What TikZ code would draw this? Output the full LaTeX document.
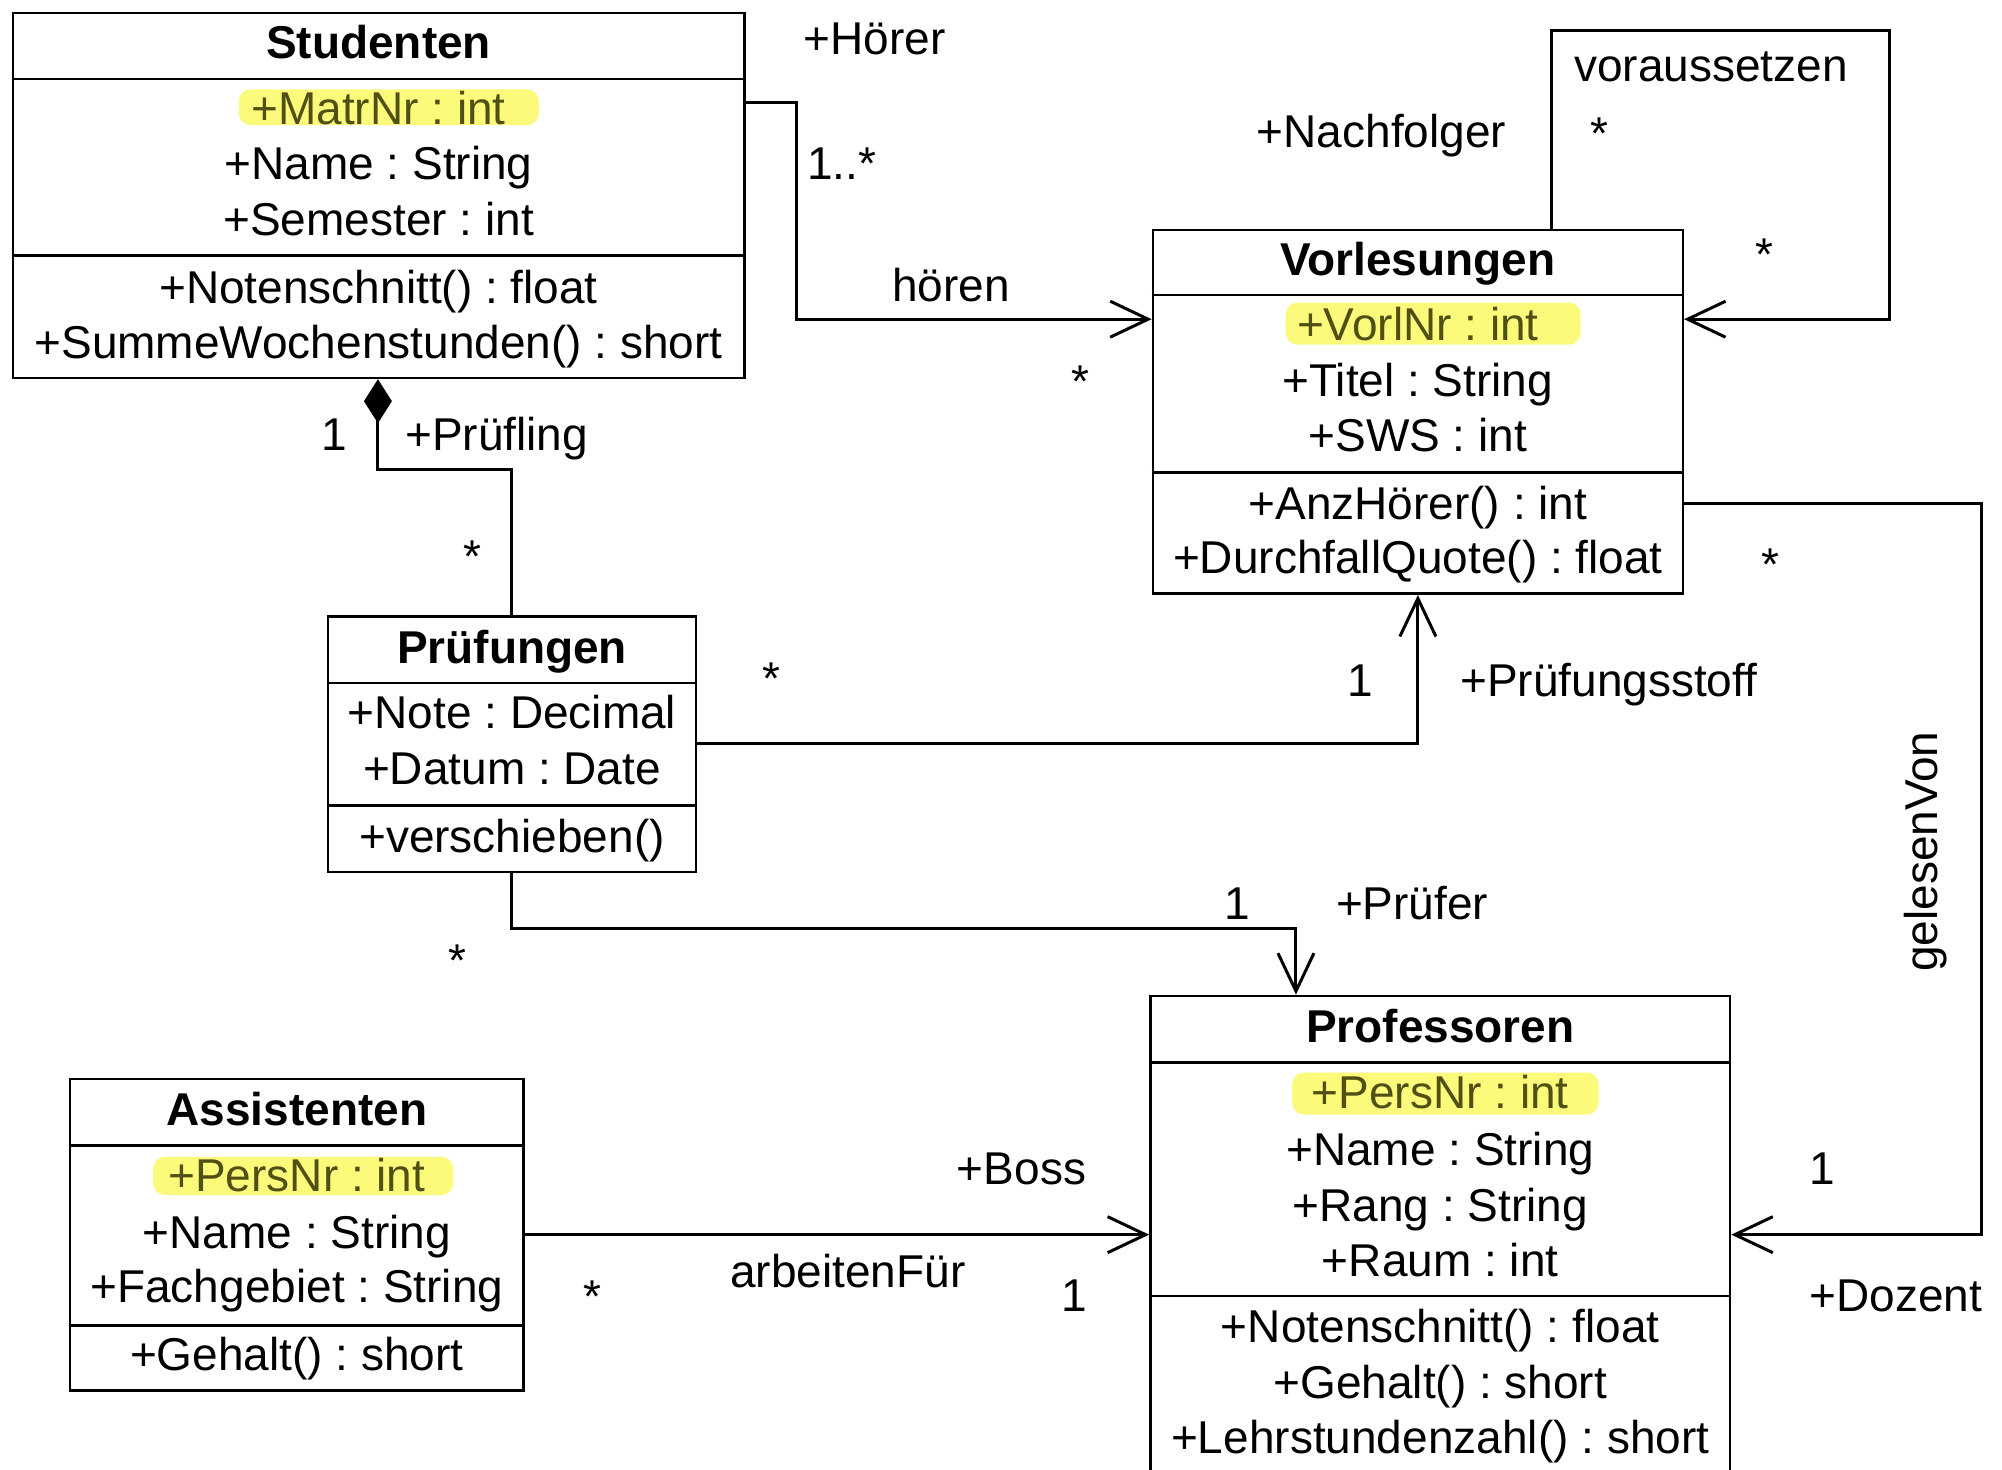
\documentclass[tikz,border=0pt]{standalone}
\usepackage{fontspec}
\setmainfont{Liberation Sans}
\usetikzlibrary{arrows.meta,fit}
\frenchspacing

\definecolor{hl}{RGB}{252,250,122}
\definecolor{hltext}{RGB}{80,80,20}

\begin{document}
\begin{tikzpicture}[x=1.2768pt,y=-1.2768pt,
  every node/.style={font=\fontsize{46}{55}\selectfont, inner sep=0pt},
  cls/.style={draw, line width=2.5pt, inner sep=0pt},
  sepline/.style={line width=2.5pt},
  ttl/.style={anchor=base, font=\fontsize{46}{55}\selectfont\bfseries},
  row/.style={anchor=base},
  keyrow/.style={anchor=base, text=hltext},
  lbl/.style={anchor=base},
  marker/.style={fill=hl, rounded corners=12pt},
  link/.style={line width=3pt},
  openhead/.style={-{Straight Barb[length=38pt,width=36pt]}},
  comphead/.style={{Diamond[length=44pt,width=28pt]}-}
]
\useasboundingbox (0,0) rectangle (1568,1151);
\clip (0,0) rectangle (1568,1151);

% key highlights
\fill[marker] (187,70) rectangle (422,98);
\fill[marker] (1007,237) rectangle (1238,270);
\fill[marker] (1012,840) rectangle (1252,873);
\fill[marker] (120,906) rectangle (355,936);

% ---------- Studenten ----------
\node[cls, fit={(10,10) (583,296)}] (stud) {};
\draw[sepline] (stud.west |- 0,62) -- (stud.east |- 0,62);
\draw[sepline] (stud.west |- 0,200) -- (stud.east |- 0,200);
\node[ttl] (stud-t) at (296.5,45.5) {Studenten};
\node[keyrow] (stud-a1) at (296.5,97.5) {+MatrNr : int};
\node[row] (stud-a2) at (296.5,140.5) {+Name : String};
\node[row] (stud-a3) at (296.5,184.5) {+Semester : int};
\node[row] (stud-m1) at (296.5,237.5) {+Notenschnitt() : float};
\node[row] (stud-m2) at (296.5,280.5) {+SummeWochenstunden() : short};

% ---------- Vorlesungen ----------
\node[cls, fit={(903,180) (1318,465)}] (vorl) {};
\draw[sepline] (vorl.west |- 0,231) -- (vorl.east |- 0,231);
\draw[sepline] (vorl.west |- 0,370) -- (vorl.east |- 0,370);
\node[ttl] (vorl-t) at (1110.5,215.5) {Vorlesungen};
\node[keyrow] (vorl-a1) at (1110.5,266.5) {+VorlNr : int};
\node[row] (vorl-a2) at (1110.5,310.5) {+Titel : String};
\node[row] (vorl-a3) at (1110.5,353.5) {+SWS : int};
\node[row] (vorl-m1) at (1110.5,406.5) {+AnzHörer() : int};
\node[row] (vorl-m2) at (1110.5,449.5) {+DurchfallQuote() : float};

% ---------- Prüfungen ----------
\node[cls, fit={(257,483) (545,683)}] (pruef) {};
\draw[sepline] (pruef.west |- 0,535) -- (pruef.east |- 0,535);
\draw[sepline] (pruef.west |- 0,631) -- (pruef.east |- 0,631);
\node[ttl] (pruef-t) at (401,519.5) {Prüfungen};
\node[row] (pruef-a1) at (401,570.5) {+Note : Decimal};
\node[row] (pruef-a2) at (401,614.5) {+Datum : Date};
\node[row] (pruef-m1) at (401,667.5) {+verschieben()};

% ---------- Professoren ----------
\node[cls, fit={(901,780) (1355,1170)}] (prof) {};
\draw[sepline] (prof.west |- 0,832) -- (prof.east |- 0,832);
\draw[sepline] (prof.west |- 0,1015) -- (prof.east |- 0,1015);
\node[ttl] (prof-t) at (1128,816.5) {Professoren};
\node[keyrow] (prof-a1) at (1128,868.5) {+PersNr : int};
\node[row] (prof-a2) at (1128,912.5) {+Name : String};
\node[row] (prof-a3) at (1128,956.5) {+Rang : String};
\node[row] (prof-a4) at (1128,999.5) {+Raum : int};
\node[row] (prof-m1) at (1128,1051.5) {+Notenschnitt() : float};
\node[row] (prof-m2) at (1128,1095.5) {+Gehalt() : short};
\node[row] (prof-m3) at (1128,1138.5) {+Lehrstundenzahl() : short};

% ---------- Assistenten ----------
\node[cls, fit={(55,845) (410,1089)}] (assi) {};
\draw[sepline] (assi.west |- 0,897) -- (assi.east |- 0,897);
\draw[sepline] (assi.west |- 0,1038) -- (assi.east |- 0,1038);
\node[ttl] (assi-t) at (232.5,881.5) {Assistenten};
\node[keyrow] (assi-a1) at (232.5,933.5) {+PersNr : int};
\node[row] (assi-a2) at (232.5,977.5) {+Name : String};
\node[row] (assi-a3) at (232.5,1020.5) {+Fachgebiet : String};
\node[row] (assi-m1) at (232.5,1073.5) {+Gehalt() : short};

% ---------- associations ----------
% hören
\draw[link, openhead] (stud.east |- 0,80) -- (624,80) -- (624,250) -- (vorl.west |- 0,250);
\node[lbl] (l-hoerer) at (685,42.5) {+Hörer};
\node[lbl, anchor=base west] (l-hoer-m) at (632,140.5) {1..*};
\node[lbl] (l-hoeren) at (745,236.5) {hören};
\node[lbl] (l-hoer-v) at (846,311) {*};

% voraussetzen (self association)
\draw[link, openhead] (vorl.north -| 1215,0) -- (1215,24) -- (1480,24) -- (1480,250) -- (vorl.east |- 0,250);
\node[lbl] (l-voraus) at (1340,64) {voraussetzen};
\node[lbl] (l-voraus-m1) at (1253,117) {*};
\node[lbl] (l-nachf) at (1082,115.5) {+Nachfolger};
\node[lbl] (l-voraus-m2) at (1382,212) {*};

% Prüfling (composition)
\draw[link, comphead] (stud.south -| 296,0) -- (296,368) -- (401,368) -- (pruef.north);
\node[lbl] (l-pling-1) at (262,352.5) {1};
\node[lbl] (l-pling) at (389,352.5) {+Prüfling};
\node[lbl] (l-pling-m) at (370,448) {*};

% Prüfungsstoff
\draw[link, openhead] (pruef.east |- 0,582) -- (1110.5,582) -- (vorl.south);
\node[lbl] (l-stoff-m) at (604,544) {*};
\node[lbl] (l-stoff-1) at (1065,545.5) {1};
\node[lbl] (l-stoff) at (1260,545.5) {+Prüfungsstoff};

% Prüfer
\draw[link, openhead] (pruef.south) -- (401,727) -- (1015,727) -- (prof.north -| 1015,0);
\node[lbl] (l-prfr-1) at (969,720.5) {1};
\node[lbl] (l-prfr) at (1106,720.5) {+Prüfer};
\node[lbl] (l-prfr-m) at (358,765) {*};

% arbeitenFür
\draw[link, openhead] (assi.east |- 0,967) -- (prof.west |- 0,967);
\node[lbl] (l-boss) at (800,927.5) {+Boss};
\node[lbl] (l-arb) at (664,1008.5) {arbeitenFür};
\node[lbl] (l-arb-m) at (464,1028) {*};
\node[lbl] (l-arb-1) at (841,1027.5) {1};

% gelesenVon
\draw[link, openhead] (vorl.east |- 0,394) -- (1552,394) -- (1552,967) -- (prof.east |- 0,967);
\node[lbl] (l-gel-m) at (1387,455) {*};
\node[rotate=90] (l-gel) at (1508,667) {gelesenVon};
\node[lbl] (l-gel-1) at (1427,927.5) {1};
\node[lbl] (l-doz) at (1485,1027.5) {+Dozent};
\end{tikzpicture}
\end{document}
